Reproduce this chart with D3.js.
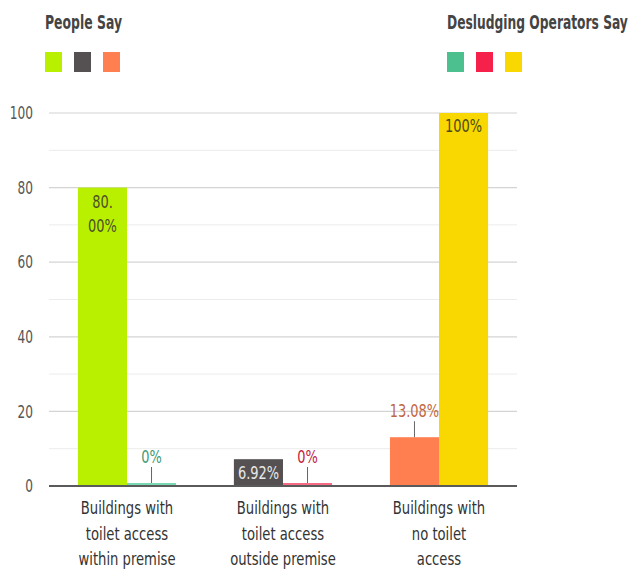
<!DOCTYPE html>
<html>
<head>
<meta charset="utf-8">
<script src="https://cdn.jsdelivr.net/npm/d3@7"></script>
<style>
  html, body { margin: 0; padding: 0; background: #fff; }
  svg { display: block; }
  text { font-family: "DejaVu Sans", sans-serif; font-stretch: condensed; }
</style>
</head>
<body>
<svg id="chart" width="634" height="572"></svg>
<script>
// Category labels, one entry per line of the wrapped label
const categories = [
  ["Buildings with", "toilet access", "within premise"],
  ["Buildings with", "toilet access", "outside premise"],
  ["Buildings with", "no toilet", "access"]
];
const categoryKeys = ["within", "outside", "none"];

// Percent values per category
const peopleSay = [80.00, 6.92, 13.08];
const operatorsSay = [0, 0, 100];

// Colours per category for each series
const peopleColors = ["#b9f000", "#555152", "#ff7f50"];
const operatorColors = ["#4cc08f", "#f5214a", "#f8d800"];
const operatorBarColors = ["#7ad8b2", "#f76a86", "#f8d800"];

const yTicks = [0, 20, 40, 60, 80, 100];
const yMinorTicks = [10, 30, 50, 70, 90];

const svg = d3.select("#chart");
const margin = { left: 49, right: 117, top: 113, bottom: 86 };
const W = 634, H = 572;

const x = d3.scaleBand().domain(categoryKeys).range([margin.left, W - margin.right]).paddingInner(0).paddingOuter(0);
const y = d3.scaleLinear().domain([0, 100]).range([H - margin.bottom, margin.top]);
const inner = d3.scaleBand().domain(["people", "operators"]).range([0, x.bandwidth()]).paddingOuter(0.59).paddingInner(0);

// Narrow the glyphs of every text run in a selection by a factor
function squeeze(sel, factor) {
  sel.each(function () {
    const runs = this.querySelectorAll("tspan");
    const nodes = runs.length ? Array.from(runs) : [this];
    nodes.forEach(n => {
      const w = n.getComputedTextLength();
      n.setAttribute("textLength", (w * factor).toFixed(2));
      n.setAttribute("lengthAdjust", "spacingAndGlyphs");
    });
  });
}

// Grid lines
const g = svg.append("g");
g.selectAll("line.minor").data(yMinorTicks).join("line")
  .attr("x1", margin.left).attr("x2", W - margin.right)
  .attr("y1", d => y(d)).attr("y2", d => y(d))
  .attr("stroke", "#ececec").attr("stroke-width", 1);
g.selectAll("line.major").data(yTicks.filter(d => d > 0)).join("line")
  .attr("x1", margin.left).attr("x2", W - margin.right)
  .attr("y1", d => y(d)).attr("y2", d => y(d))
  .attr("stroke", "#d4d4d4").attr("stroke-width", 1.2);

// Y axis labels
const yAxis = d3.axisLeft(y).tickValues(yTicks).tickSize(0).tickPadding(16);
const ya = svg.append("g").attr("transform", `translate(${margin.left},0)`).call(yAxis);
ya.select(".domain").remove();
ya.selectAll("text").attr("font-size", 18).attr("fill", "#555")
  .attr("font-family", "'DejaVu Sans', sans-serif");
squeeze(ya.selectAll("text"), 0.75);

// Bars
const minH = 3;
const bars = svg.append("g");
categoryKeys.forEach((k, i) => {
  const x0 = x(k);
  const pv = peopleSay[i], ov = operatorsSay[i];
  const ph = Math.max(y(0) - y(pv), minH), oh = Math.max(y(0) - y(ov), minH);
  bars.append("rect")
    .attr("x", x0 + inner("people")).attr("width", inner.bandwidth())
    .attr("y", y(0) - ph).attr("height", ph)
    .attr("fill", peopleColors[i]);
  bars.append("rect")
    .attr("x", x0 + inner("operators")).attr("width", inner.bandwidth())
    .attr("y", y(0) - oh).attr("height", oh)
    .attr("fill", operatorBarColors[i]);
});

// X axis baseline
svg.append("line")
  .attr("x1", margin.left).attr("x2", W - margin.right)
  .attr("y1", y(0)).attr("y2", y(0))
  .attr("stroke", "#5a5a5a").attr("stroke-width", 2);

// Value labels
const fmt = v => (v === 0 ? "0" : v === 100 ? "100" : v.toFixed(2)) + "%";
const labels = svg.append("g").attr("font-size", 18).attr("text-anchor", "middle");

// 80.00% wraps inside the narrow bar
{
  const cx = x(categoryKeys[0]) + inner("people") + inner.bandwidth() / 2;
  const t = labels.append("text").attr("fill", "#4a4f2a");
  const s = fmt(peopleSay[0]);
  t.append("tspan").attr("x", cx).attr("y", y(peopleSay[0]) + 20).text(s.slice(0, 3));
  t.append("tspan").attr("x", cx).attr("y", y(peopleSay[0]) + 44).text(s.slice(3));
}
// 100% inside the bar top
{
  const cx = x(categoryKeys[2]) + inner("operators") + inner.bandwidth() / 2;
  labels.append("text").attr("x", cx).attr("y", y(operatorsSay[2]) + 19)
    .attr("fill", "#4d4a1a").text(fmt(operatorsSay[2]));
}
// 6.92% in a dark box over the bar
{
  const bx = x(categoryKeys[1]) + inner("people");
  const cx = bx + inner.bandwidth() / 2;
  labels.append("rect").attr("x", bx).attr("width", inner.bandwidth())
    .attr("y", y(peopleSay[1]) - 1).attr("height", y(0) - y(peopleSay[1]))
    .attr("fill", "#555152");
  labels.append("text").attr("x", cx).attr("y", y(peopleSay[1]) + 19)
    .attr("fill", "#e8e8e8").text(fmt(peopleSay[1]));
}
// Labels above short bars, with leader lines
const outside = [
  { cat: 0, series: "operators", v: operatorsSay[0], color: "#3f9a78" },
  { cat: 1, series: "operators", v: operatorsSay[1], color: "#c4213f" },
  { cat: 2, series: "people", v: peopleSay[2], color: "#c0673f" }
];
outside.forEach(o => {
  const cx = x(categoryKeys[o.cat]) + inner(o.series) + inner.bandwidth() / 2;
  const top = Math.min(y(o.v), y(0) - minH);
  labels.append("line").attr("x1", cx).attr("x2", cx)
    .attr("y1", top - 16).attr("y2", top)
    .attr("stroke", "#666").attr("stroke-width", 1);
  labels.append("text").attr("x", cx).attr("y", top - 20)
    .attr("fill", o.color).text(fmt(o.v));
});
squeeze(labels.selectAll("text"), 0.8);

// Category labels
const cl = svg.append("g").attr("font-size", 17).attr("fill", "#333").attr("text-anchor", "middle");
categoryKeys.forEach((k, i) => {
  const t = cl.append("text");
  categories[i].forEach((line, j) => {
    t.append("tspan").attr("x", x(k) + x.bandwidth() / 2).attr("y", 514 + j * 25.5).text(line);
  });
});
squeeze(cl.selectAll("text"), 0.86);

// Legends: the title is narrowed with a horizontal scale to its target width
function legend(x0, title, width, colors) {
  const lg = svg.append("g");
  const tg = lg.append("g");
  const t = tg.append("text").attr("x", 0).attr("y", 0).attr("font-size", 19)
    .attr("font-weight", "bold").attr("fill", "#444")
    .text(title);
  const sx = width / t.node().getComputedTextLength();
  tg.attr("transform", `translate(${x0},29) scale(${sx.toFixed(4)},1)`);
  lg.selectAll("rect").data(colors).join("rect")
    .attr("x", (d, i) => x0 + i * 29).attr("y", 52)
    .attr("width", 17).attr("height", 20).attr("fill", d => d);
}
legend(45, "People Say", 77, peopleColors);
legend(447, "Desludging Operators Say", 181, operatorColors);
</script>
</body>
</html>
